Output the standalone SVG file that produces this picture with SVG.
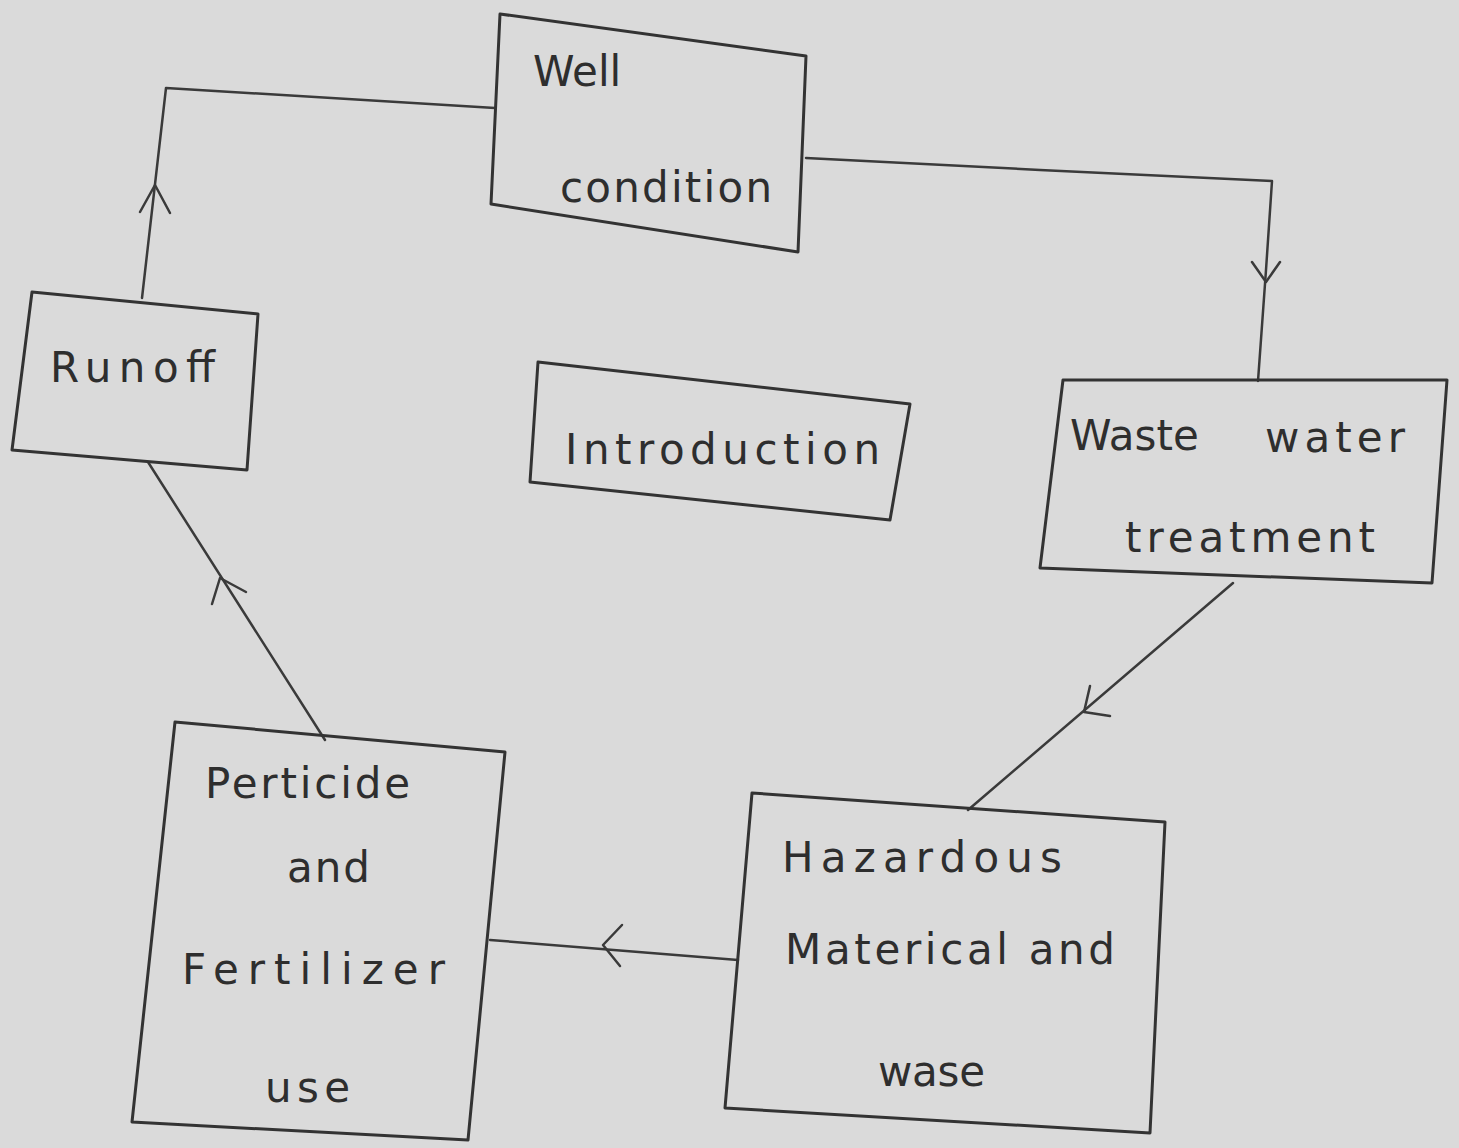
<svg xmlns="http://www.w3.org/2000/svg" width="1459" height="1148" viewBox="0 0 1459 1148">
<style>
.box{fill:none;stroke:#333;stroke-width:3;stroke-linejoin:round}
.ln{fill:none;stroke:#3a3a3a;stroke-width:2.5;stroke-linecap:round;stroke-linejoin:round}
.t{font-family:"DejaVu Sans","Liberation Sans",sans-serif;font-size:42px;fill:#2e2e2e}
</style>
<rect width="1459" height="1148" fill="#dadada"/>
<g id="connectors">
<path class="ln" d="M806,158 L1040,170 L1272,181 L1266,270 L1258,381"/>
<path class="ln" d="M1252,262 L1266,282 L1280,262"/>
<path class="ln" d="M1233,583 L968,810"/>
<path class="ln" d="M1090,686 L1084,712 L1110,716"/>
<path class="ln" d="M738,960 L490,940"/>
<path class="ln" d="M622,925 L603,945 L620,966"/>
<path class="ln" d="M325,740 L148,462"/>
<path class="ln" d="M212,604 L220,578 L246,592"/>
<path class="ln" d="M142,298 L166,88 L495,108"/>
<path class="ln" d="M140,212 L155,185 L170,213"/>
</g>
<g id="well-condition">
<polygon class="box" points="500,14 806,56 798,252 491,204"/>
<text class="t" x="533" y="86">Well</text>
<text class="t" x="560" y="202" textLength="212" lengthAdjust="spacing">condition</text>
</g>
<g id="runoff">
<polygon class="box" points="32,292 258,314 247,470 12,450"/>
<text class="t" x="50" y="382" textLength="165" lengthAdjust="spacing">Runoff</text>
</g>
<g id="introduction">
<polygon class="box" points="538,362 910,404 890,520 530,482"/>
<text class="t" x="565" y="464" textLength="315" lengthAdjust="spacing">Introduction</text>
</g>
<g id="waste-water">
<polygon class="box" points="1063,380 1447,380 1432,583 1040,568"/>
<text class="t" x="1070" y="450">Waste</text>
<text class="t" x="1265" y="452" textLength="140" lengthAdjust="spacing">water</text>
<text class="t" x="1125" y="552" textLength="250" lengthAdjust="spacing">treatment</text>
</g>
<g id="hazardous">
<polygon class="box" points="752,793 1165,822 1150,1133 725,1108"/>
<text class="t" x="782" y="872" textLength="280" lengthAdjust="spacing">Hazardous</text>
<text class="t" x="785" y="964" textLength="330" lengthAdjust="spacing">Materical and</text>
<text class="t" x="878" y="1086" textLength="107" lengthAdjust="spacing">wase</text>
</g>
<g id="perticide">
<polygon class="box" points="175,722 505,752 468,1140 132,1122"/>
<text class="t" x="205" y="798" textLength="205" lengthAdjust="spacing">Perticide</text>
<text class="t" x="287" y="882" textLength="83" lengthAdjust="spacing">and</text>
<text class="t" x="182" y="984" textLength="263" lengthAdjust="spacing">Fertilizer</text>
<text class="t" x="265" y="1102" textLength="85" lengthAdjust="spacing">use</text>
</g>
</svg>
